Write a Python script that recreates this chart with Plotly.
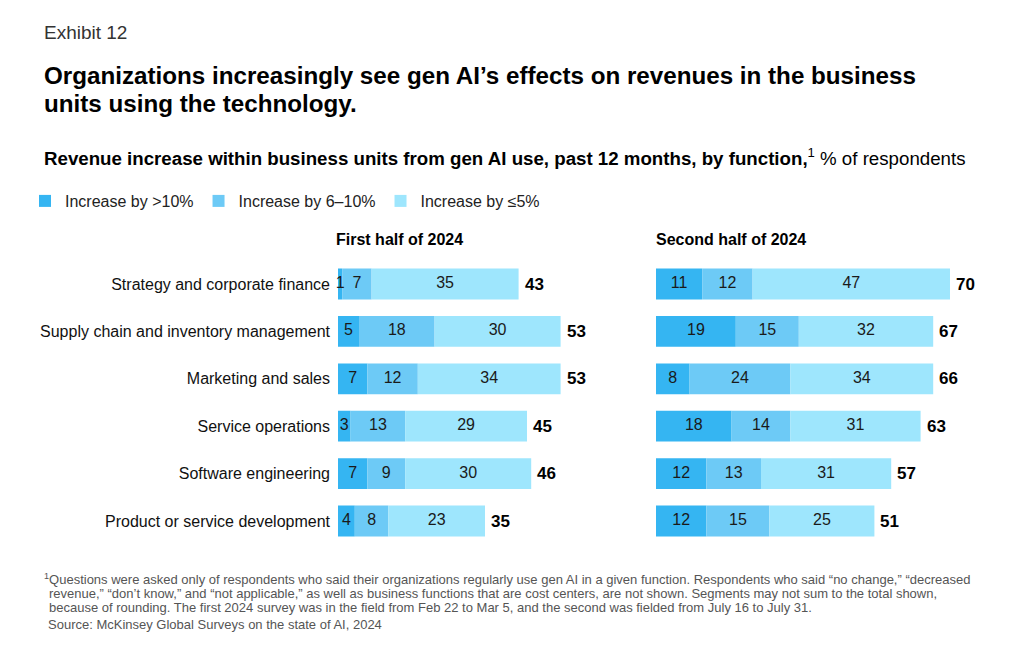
import plotly.graph_objects as go

categories = ["Strategy and corporate finance", "Supply chain and inventory management",
              "Marketing and sales", "Service operations", "Software engineering",
              "Product or service development"]
series_names = ["Increase by >10%", "Increase by 6–10%", "Increase by ≤5%"]
colors = ["#35B5F2", "#6DCAF6", "#9EE6FD"]

h1_gt10 = [1, 5, 7, 3, 7, 4]
h1_6to10 = [7, 18, 12, 13, 9, 8]
h1_le5 = [35, 30, 34, 29, 30, 23]
h1_total = [43, 53, 53, 45, 46, 35]

h2_gt10 = [11, 19, 8, 18, 12, 12]
h2_6to10 = [12, 15, 24, 14, 13, 15]
h2_le5 = [47, 32, 34, 31, 31, 25]
h2_total = [70, 67, 66, 63, 57, 51]

panel_titles = ["First half of 2024", "Second half of 2024"]

W, H = 1024, 650
OFF = 8  # page body margin
FONT = "Liberation Sans"
XMAX = 72
SCALE = 4.2  # px per percentage point


def px(x):
    return (x - OFF) / W


def py(y):
    return 1 - (y - OFF) / H


fig = go.Figure()

panels = [(h1_gt10, h1_6to10, h1_le5, h1_total, "x", "y"),
          (h2_gt10, h2_6to10, h2_le5, h2_total, "x2", "y2")]

for pi, (a, b, c, tot, xa, ya) in enumerate(panels):
    segs = [a, b, c]
    base = [0] * len(categories)
    for si, seg in enumerate(segs):
        fig.add_trace(go.Bar(
            y=categories, x=seg, base=base, orientation="h",
            marker=dict(color=colors[si], line=dict(width=0)),
            name=series_names[si], legendgroup=series_names[si],
            showlegend=(pi == 0), xaxis=xa, yaxis=ya, hoverinfo="skip",
        ))
        mids = [bb + v / 2 for bb, v in zip(base, seg)]
        fig.add_trace(go.Scatter(
            y=categories, x=mids, mode="text", text=[str(v) for v in seg],
            textposition="middle center",
            textfont=dict(family=FONT, size=16, color="#1a1a1a"),
            showlegend=False, xaxis=xa, yaxis=ya, hoverinfo="skip", cliponaxis=False,
        ))
        base = [bb + v for bb, v in zip(base, seg)]
    for cat, end, t in zip(categories, base, tot):
        fig.add_annotation(x=end, y=cat, xref=xa, yref=ya, text="<b>%d</b>" % t,
                           xanchor="left", yanchor="middle", xshift=4, showarrow=False,
                           font=dict(family=FONT, size=17, color="#000000"))

ydom = [py(544.7), py(260.3)]
axis_common = dict(range=[0, XMAX], showgrid=False, zeroline=False, showticklabels=False,
                   showline=False, ticks="", fixedrange=True)
fig.update_layout(
    width=W, height=H,
    margin=dict(l=0, r=0, t=0, b=0),
    paper_bgcolor="white", plot_bgcolor="white",
    barmode="overlay", bargap=0.35,
    font=dict(family=FONT, color="#000000"),
    xaxis=dict(domain=[px(338), px(338 + SCALE * XMAX)], **axis_common),
    xaxis2=dict(domain=[px(656), px(656 + SCALE * XMAX)], **axis_common),
    yaxis=dict(domain=ydom, autorange="reversed", showgrid=False, zeroline=False,
               showline=False, ticks="", ticklabelstandoff=7,
               tickfont=dict(family=FONT, size=16, color="#111111")),
    yaxis2=dict(domain=ydom, autorange="reversed", showgrid=False, zeroline=False,
                showline=False, ticks="", showticklabels=False, anchor="x2"),
    legend=dict(orientation="h", x=px(25), y=py(201), xanchor="left", yanchor="middle",
                font=dict(family=FONT, size=16, color="#222222"),
                traceorder="normal", itemclick=False, itemdoubleclick=False,
                bgcolor="rgba(0,0,0,0)"),
    showlegend=True,
)

annots = [
    dict(text="Exhibit 12", x=42, y=32, size=19, color="#333333"),
    dict(text="<b>Organizations increasingly see gen AI’s effects on revenues in the business</b>",
         x=42, y=75, size=24.2, color="#000000"),
    dict(text="<b>units using the technology.</b>", x=42, y=103, size=24.2, color="#000000"),
    dict(text="<b>Revenue increase within business units from gen AI use, past 12 months, by function,</b>"
              "<sup>1</sup> % of respondents", x=42, y=157, size=18.7, color="#000000"),
    dict(text="<b>" + panel_titles[0] + "</b>", x=334, y=240, size=16, color="#000000"),
    dict(text="<b>" + panel_titles[1] + "</b>", x=654, y=240, size=16, color="#000000"),
    dict(text="<sup>1</sup>Questions were asked only of respondents who said their organizations regularly use gen AI in a given function. Respondents who said “no change,” “decreased",
         x=42, y=579, size=13, color="#555555"),
    dict(text="revenue,” “don’t know,” and “not applicable,” as well as business functions that are cost centers, are not shown. Segments may not sum to the total shown,",
         x=47, y=593, size=13, color="#555555"),
    dict(text="because of rounding. The first 2024 survey was in the field from Feb 22 to Mar 5, and the second was fielded from July 16 to July 31.",
         x=47, y=607, size=13, color="#555555"),
    dict(text="Source: McKinsey Global Surveys on the state of AI, 2024",
         x=46, y=624, size=13, color="#555555"),
]
for a in annots:
    fig.add_annotation(text=a["text"], x=px(a["x"]), y=py(a["y"]), xref="paper", yref="paper",
                       xanchor="left", yanchor="middle", showarrow=False, align="left",
                       font=dict(family=FONT, size=a["size"], color=a["color"]))

fig.write_html("out.html")
